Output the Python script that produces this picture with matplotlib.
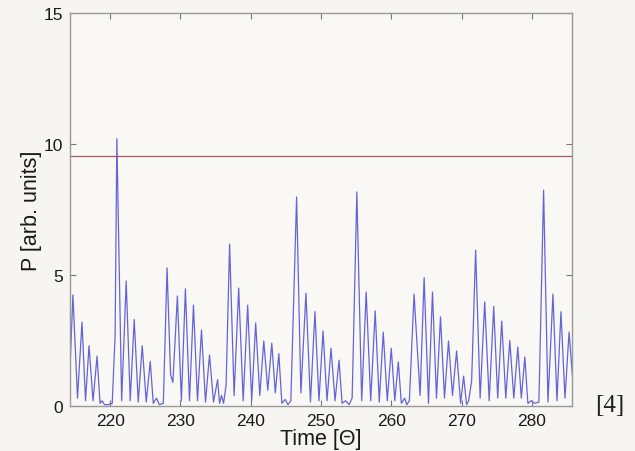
import matplotlib.pyplot as plt

# peak / trough vertices of the power trace
time = [
    214.3, 214.71, 215.36, 216.0, 216.5, 217.0, 217.57, 218.14, 218.57,
    218.86, 219.2, 219.7, 220.3, 220.71, 220.96,
    221.64, 222.29, 222.86, 223.43, 224.0, 224.57, 225.14, 225.71, 226.14,
    226.6, 227.0, 227.57,
    228.1, 228.6, 228.93, 229.57, 230.14, 230.71, 231.29, 231.86, 232.43,
    233.0, 233.57, 234.14, 234.71, 235.29, 235.57, 235.85, 236.14,
    236.5, 237.0, 237.64, 238.29, 238.93, 239.57, 240.14, 240.71, 241.29,
    241.86, 242.43, 243.0, 243.5, 244.0, 244.43, 244.9, 245.3, 245.71,
    246.53, 247.14, 247.86, 248.5, 249.14, 249.71, 250.29, 250.86, 251.43,
    252.0, 252.57, 253.0, 253.5, 254.0, 254.43,
    255.1, 255.79, 256.43, 257.07, 257.71, 258.29, 258.86, 259.43, 260.0,
    260.5, 261.0, 261.43, 261.9, 262.2, 262.57,
    263.24, 263.86, 264.1, 264.67, 265.29, 265.86, 266.43, 267.0, 267.57,
    268.14, 268.71, 269.29, 269.86, 270.29, 270.71, 271.0, 271.43,
    272.0, 272.64, 273.29, 273.93, 274.57, 275.14, 275.71, 276.29, 276.86,
    277.43, 278.0, 278.5, 279.0, 279.43, 279.9, 280.4, 281.0,
    281.67, 282.29, 283.0, 283.57, 284.14, 284.71, 285.29, 286.0,
]
power = [
    1.5, 4.24, 0.3, 3.2, 0.2, 2.3, 0.2, 1.9, 0.1,
    0.2, 0.05, 0.05, 0.1, 2.7, 10.2,
    0.2, 4.77, 0.2, 3.3, 0.15, 2.3, 0.15, 1.7, 0.1,
    0.3, 0.05, 0.1,
    5.27, 1.2, 0.9, 4.2, 0.2, 4.47, 0.2, 3.85, 0.2,
    2.9, 0.15, 1.95, 0.15, 1.0, 0.1, 0.4, 0.1,
    0.8, 6.18, 0.4, 4.5, 0.2, 3.85, 0.2, 3.17, 0.4,
    2.48, 0.6, 2.4, 0.5, 2.0, 0.1, 0.25, 0.05, 0.2,
    7.98, 0.5, 4.3, 0.15, 3.6, 0.2, 2.86, 0.2, 2.2,
    0.2, 1.75, 0.1, 0.2, 0.05, 0.3,
    8.17, 0.2, 4.35, 0.2, 3.63, 0.15, 2.82, 0.2, 2.2,
    0.2, 1.68, 0.1, 0.3, 0.05, 0.2,
    4.27, 1.45, 0.4, 4.9, 0.1, 4.35, 0.3, 3.4, 0.3,
    2.48, 0.4, 2.1, 0.1, 1.14, 0.05, 0.2, 0.95,
    5.95, 0.3, 3.97, 0.2, 3.8, 0.3, 3.24, 0.3, 2.5,
    0.3, 2.25, 0.3, 1.87, 0.1, 0.2, 0.1, 0.15,
    8.24, 0.15, 4.27, 0.2, 3.6, 0.3, 2.82, 0.35,
]
threshold = 9.55

x_ticks = [220, 230, 240, 250, 260, 270, 280]
y_ticks = [0, 5, 10, 15]

plt.rcParams['font.family'] = ['Liberation Sans', 'DejaVu Sans']

bg = '#f7f5f1'
fig = plt.figure(figsize=(6.35, 4.52), dpi=100, facecolor=bg)
ax = fig.add_axes([0.1102, 0.0996, 0.7906, 0.8694], facecolor='#faf8f5')

ax.plot(time, power, color='#6464d6', lw=0.9)
ax.axhline(threshold, color='#a85a5a', lw=0.9)

ax.set_xlim(214.29, 285.71)
ax.set_ylim(0, 15)
ax.set_xticks(x_ticks)
ax.set_yticks(y_ticks)
ax.tick_params(direction='in', top=True, right=True, length=4, width=0.8,
               color='#777777', labelsize=12.5, labelcolor='#1a1a1a', pad=5)
for s in ax.spines.values():
    s.set_color('#999999')
    s.set_linewidth(1.0)

ax.set_xlabel('Time [Θ]', fontsize=15.5, color='#1a1a1a', labelpad=0)
ax.set_ylabel('P [arb. units]', fontsize=15.5, color='#1a1a1a', labelpad=1)

fig.text(0.961, 0.102, '[4]', fontsize=18, family='Liberation Serif',
         color='#222222', ha='center', va='center')

fig.savefig('out.png', dpi=100, facecolor=bg)
